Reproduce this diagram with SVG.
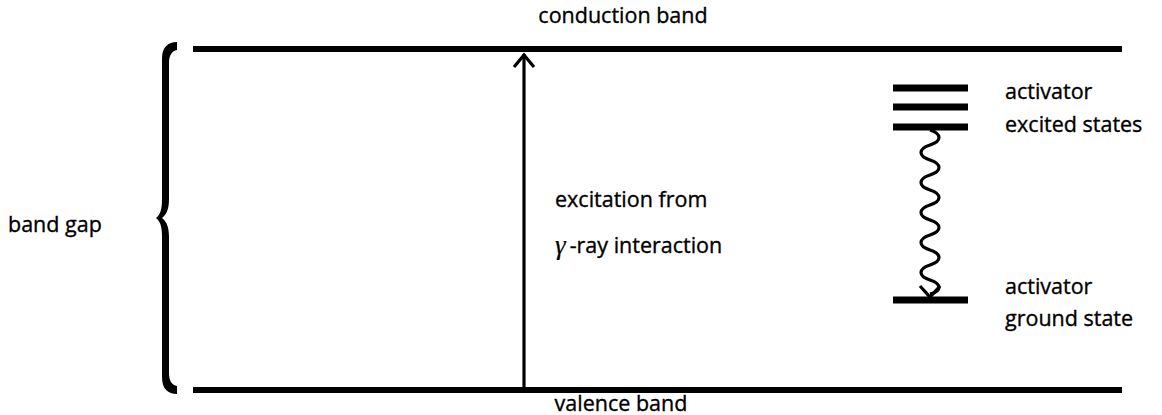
<svg xmlns="http://www.w3.org/2000/svg" width="1162" height="415" viewBox="0 0 1162 415">
<style>
text{font-family:"Open Sans","Noto Sans","DejaVu Sans",sans-serif;font-size:21.5px;fill:#000;stroke:#000;stroke-width:0.35}
.gamma{font-family:"Liberation Serif","DejaVu Serif",serif;font-style:italic;font-size:27px}
.band{stroke:#000;stroke-width:6;fill:none}
.level{stroke:#000;stroke-width:7;fill:none}
.conn{stroke:#000;stroke-width:3.2;fill:none;stroke-linejoin:miter}
</style>
<g id="conduction-band">
<line class="band" x1="193" y1="49" x2="1122" y2="49"/>
<text x="623" y="23" text-anchor="middle">conduction band</text>
</g>
<g id="valence-band">
<line class="band" x1="193" y1="390" x2="1122" y2="390"/>
<text x="621" y="411" text-anchor="middle">valence band</text>
</g>
<g id="band-gap">
<path d="M177,42 C168,42 162,47 162,59 L162,199 C162,210 160,215 156,218 C160,221 162,226 162,237 L162,377 C162,389 168,394 177,394 L177,386 C172,385 169,381 169,373 L169,237 C169,226 166,221 162,218 C166,215 169,210 169,199 L169,63 C169,55 172,51 177,50 Z" fill="#000"/>
<text x="8" y="232">band gap</text>
</g>
<g id="activator-excited">
<line class="level" x1="893" y1="88" x2="968" y2="88"/>
<line class="level" x1="893" y1="107" x2="968" y2="107"/>
<line class="level" x1="893" y1="127" x2="968" y2="127"/>
<text x="1005" y="99">activator</text>
<text x="1005" y="132">excited states</text>
</g>
<g id="activator-ground">
<line class="level" x1="893" y1="300" x2="968" y2="300"/>
<text x="1005" y="294">activator</text>
<text x="1005" y="326">ground state</text>
</g>
<g id="excitation-label">
<text x="555" y="207">excitation from</text>
<text x="555" y="253"><tspan class="gamma" dy="1" stroke-width="0.2">γ</tspan><tspan dx="4" dy="-1">-ray interaction</tspan></text>
</g>
<g id="connectors">
<line class="conn" x1="524" y1="390" x2="524" y2="54"/>
<polyline class="conn" points="514,67 524,55 534,67"/>
<path class="conn" d="M930,130 c12,4 12,11 0,15 s-12,11 0,15 s12,11 0,15 s-12,11 0,15 s12,11 0,15 s-12,11 0,15 s12,11 0,15 s-12,11 0,15 s12,11 0,15 s-12,11 0,15 s12,11 0,14"/>
<polyline class="conn" points="920,286 930,297 940,286"/>
</g>
</svg>
